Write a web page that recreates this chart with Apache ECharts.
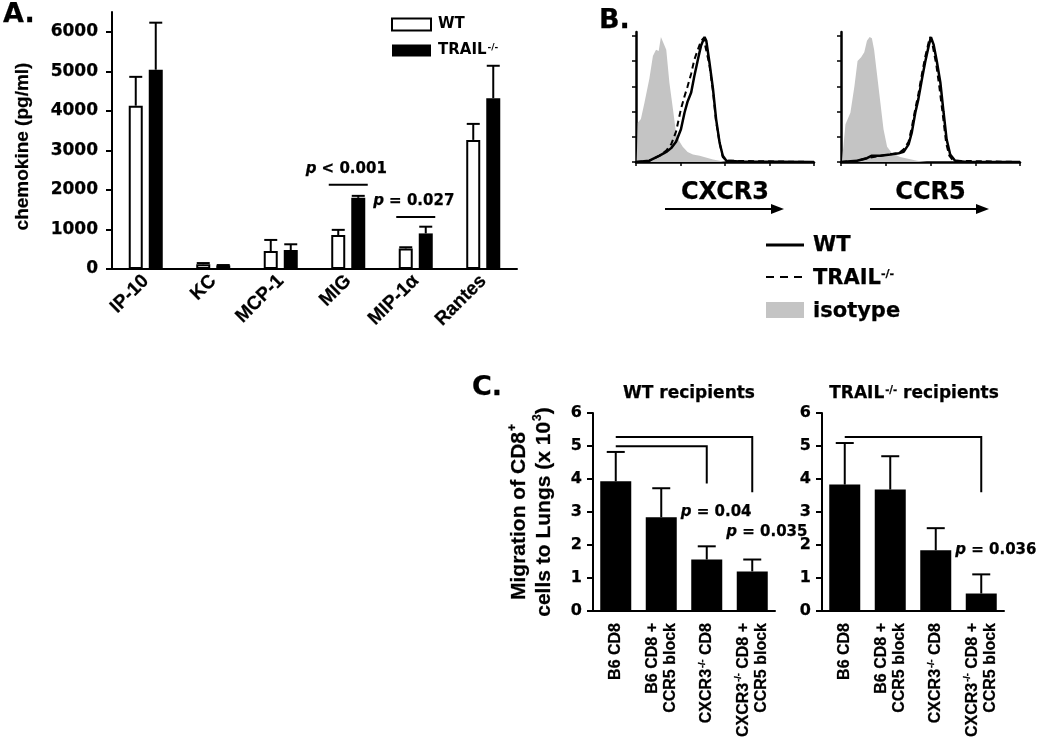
<!DOCTYPE html>
<html><head><meta charset="utf-8">
<script src="https://cdn.jsdelivr.net/npm/echarts@6/dist/echarts.min.js"></script>
<style>html,body{margin:0;padding:0;background:#fff}#c{width:1050px;height:745px}</style>
</head><body><div id="c"></div>
<script>
// ---------- Panel A data ----------
const chemokines = ['IP-10', 'KC', 'MCP-1', 'MIG', 'MIP-1α', 'Rantes'];
const wtMean = [4130, 120, 455, 860, 520, 3265];
const wtSem = [730, 30, 280, 130, 30, 405];
const trMean = [5040, 90, 480, 1800, 900, 4320];
const trSem = [1190, 10, 145, 50, 170, 820];
const aTicks = [0, 1000, 2000, 3000, 4000, 5000, 6000];
const aSigPos = [[3, 2130], [4, 1316]];
const aSigText = ['p < 0.001', 'p = 0.027'];

// ---------- Panel B data (x: log decades, y: % of max) ----------
const cxcr3Iso = [[0.015,0],[0.04,31],[0.11,34],[0.19,47],[0.30,66],[0.38,84],[0.45,89],[0.51,88],[0.56,99],[0.60,99],[0.68,89],[0.75,63],[0.83,42],[0.90,23],[0.98,16],[1.05,12],[1.16,8],[1.28,6],[1.43,5],[1.73,2],[2.03,0]];
const cxcr3WT = [[0,0],[0.30,1],[0.53,5],[0.68,8],[0.79,11],[0.90,16],[1.01,26],[1.09,39],[1.16,48],[1.24,55],[1.31,68],[1.39,81],[1.46,92],[1.54,99],[1.58,96],[1.65,79],[1.73,58],[1.80,34],[1.88,15],[1.95,5],[2.03,1],[2.33,0.3],[4,0]];
const cxcr3TR = [[0,0],[0.30,1],[0.53,5],[0.68,9],[0.79,14],[0.90,24],[1.01,42],[1.09,52],[1.16,60],[1.24,70],[1.31,81],[1.39,89],[1.46,96],[1.52,98],[1.56,97],[1.65,77],[1.73,56],[1.80,32],[1.88,15],[1.95,4],[2.03,1],[4,0]];
const ccr5Iso = [[0.02,0],[0.10,30],[0.21,39],[0.30,60],[0.37,80],[0.45,83],[0.52,87],[0.58,96],[0.64,99],[0.69,98],[0.74,89],[0.80,71],[0.88,47],[0.95,26],[1.03,12],[1.14,7],[1.32,4],[1.70,1],[1.92,0]];
const ccr5WT = [[0,0],[0.36,1],[0.58,3],[0.69,5],[0.88,5],[1.10,6],[1.29,7],[1.40,8],[1.51,14],[1.58,23],[1.66,39],[1.73,50],[1.81,66],[1.88,79],[1.96,92],[2.01,99],[2.07,93],[2.14,80],[2.22,63],[2.29,40],[2.36,18],[2.44,6],[2.55,1],[2.81,0],[4,0]];
const ccr5TR = [[0,0],[0.36,1],[0.58,3],[0.88,5],[1.29,7],[1.40,10],[1.51,16],[1.58,27],[1.66,42],[1.73,54],[1.81,70],[1.88,83],[1.96,95],[1.99,99],[2.05,92],[2.13,77],[2.20,59],[2.28,36],[2.35,15],[2.42,5],[2.51,1],[4,0]];
const histTicks = [0, 20, 40, 60, 80, 100];

// ---------- Panel C data ----------
const groups = ['B6 CD8', 'B6 CD8 +\nCCR5 block', 'CXCR3-/- CD8', 'CXCR3-/- CD8 +\nCCR5 block'];
const wtRecMean = [3.93, 2.84, 1.56, 1.20];
const wtRecSem = [0.89, 0.88, 0.40, 0.36];
const trRecMean = [3.83, 3.68, 1.84, 0.53];
const trRecSem = [1.26, 1.01, 0.67, 0.58];
const wtBrackets = [[0, 2, 4.99, 3.86], [0, 3, 5.27, 3.60]];
const trBrackets = [[0, 3, 5.27, 3.60]];
const wtSigPos = [[2, 3.0], [3, 2.4]];
const wtSigText = ['p = 0.04', 'p = 0.035'];
const trSigPos = [[3, 1.84]];
const trSigText = ['p = 0.036'];

// ---------- styles ----------
const H = 'DejaVu Sans';
const V = 'Liberation Sans';
const TB = {textBorderColor: '#000', textBorderWidth: 0.25};
const supStyle = (size, fam) => ({fontSize: size, fontWeight: 'bold', fontFamily: fam, color: '#000', verticalAlign: 'top', padding: [0, 0, 0, 1]});
const supFmt = s => s.replace(/-\/-/g, '{sup|-/-}');

function errRender(offset, cap) {
  return function (params, api) {
    const i = api.value(0), m = api.value(1), s = api.value(2);
    const p = api.coord([i, m]), q = api.coord([i, m + s]);
    const x = p[0] + offset;
    return {type: 'group', children: [
      {type: 'line', shape: {x1: x, y1: p[1], x2: x, y2: q[1]}, style: {stroke: '#000', lineWidth: 2}},
      {type: 'line', shape: {x1: x - cap, y1: q[1], x2: x + cap, y2: q[1]}, style: {stroke: '#000', lineWidth: 2}}
    ]};
  };
}
function bracketRender(params, api) {
  const a = api.coord([api.value(0), api.value(2)]);
  const b = api.coord([api.value(1), api.value(2)]);
  const c = api.coord([api.value(1), api.value(3)]);
  return {type: 'polyline', shape: {points: [a, b, c]}, style: {stroke: '#000', lineWidth: 2, fill: null}};
}
function sigLineRender(texts, halfW, dy, fontSize) {
  return function (params, api) {
    const p = api.coord([api.value(0), api.value(1)]);
    return {type: 'group', children: [
      {type: 'line', shape: {x1: p[0] - halfW, y1: p[1], x2: p[0] + halfW, y2: p[1]}, style: {stroke: '#000', lineWidth: 2}},
      {type: 'text', x: p[0] - 2, y: p[1] + dy, style: {
        text: texts[params.dataIndex].replace(/^p/, '{i|p}'), fill: '#000', font: 'bold ' + fontSize + 'px "' + H + '"',
        align: 'center', verticalAlign: 'middle', stroke: '#000', lineWidth: 0.25,
        rich: {i: {fontStyle: 'italic', fontWeight: 'bold', fontSize: fontSize, fontFamily: H, color: '#000'}}}}
    ]};
  };
}
function sigTextRender(texts, dx, fontSize) {
  return function (params, api) {
    const p = api.coord([api.value(0), api.value(1)]);
    return {type: 'text', x: p[0] + dx, y: p[1], style: {
      text: texts[params.dataIndex].replace(/^p/, '{i|p}'), fill: '#000', font: 'bold ' + fontSize + 'px "' + H + '"',
      align: 'left', verticalAlign: 'middle', stroke: '#000', lineWidth: 0.25,
      rich: {i: {fontStyle: 'italic', fontWeight: 'bold', fontSize: fontSize, fontFamily: H, color: '#000'}}}};
  };
}

const axLine = {show: true, lineStyle: {color: '#000', width: 2}};
const noSplit = {show: false};
const catLabelC = {interval: 0, rotate: 90, margin: 12, fontFamily: V, fontWeight: 'bold', fontSize: 16, lineHeight: 18, color: '#000',
  formatter: supFmt, rich: {sup: supStyle(9, V)}, ...TB};

const option = {
  backgroundColor: '#fff',
  animation: false,
  title: [
    {text: 'A.', left: -2, top: -4, textStyle: {fontFamily: H, fontWeight: 'bold', fontSize: 27, color: '#000', ...TB}},
    {text: 'B.', left: 594, top: 2, textStyle: {fontFamily: H, fontWeight: 'bold', fontSize: 27, color: '#000', ...TB}},
    {text: 'C.', left: 467, top: 369, textStyle: {fontFamily: H, fontWeight: 'bold', fontSize: 27, color: '#000', ...TB}},
    {text: 'WT recipients', left: 684, top: 380, textAlign: 'center', textStyle: {fontFamily: H, fontWeight: 'bold', fontSize: 17, color: '#000', ...TB}},
    {text: 'TRAIL{sup|-/-} recipients', left: 909, top: 380, textAlign: 'center', textStyle: {fontFamily: H, fontWeight: 'bold', fontSize: 17, color: '#000', ...TB, rich: {sup: supStyle(10, H)}}}
  ],
  legend: {
    left: 391, top: 17, padding: 0, orient: 'vertical', itemWidth: 39, itemHeight: 12, itemGap: 11, icon: 'rect',
    data: ['WT', 'TRAIL-/-'], selectedMode: false,
    formatter: supFmt,
    textStyle: {fontFamily: H, fontWeight: 'bold', fontSize: 15, color: '#000', padding: [0, 0, 0, 2], rich: {sup: supStyle(9, H)}}
  },
  grid: [
    {left: 112, top: 12, width: 405, height: 257},
    {left: 636, top: 32, width: 178, height: 130},
    {left: 841, top: 32, width: 179, height: 130},
    {left: 593, top: 413, width: 182, height: 198},
    {left: 822, top: 413, width: 182, height: 198}
  ],
  xAxis: [
    {gridIndex: 0, type: 'category', data: chemokines, axisLine: axLine,
      axisTick: {alignWithLabel: true, length: 7, lineStyle: {width: 2, color: '#000'}},
      axisLabel: {interval: 0, rotate: 45, margin: 9, fontFamily: V, fontWeight: 'bold', fontSize: 19, color: '#000', ...TB}},
    {gridIndex: 1, type: 'value', min: 0, max: 4, interval: 1, axisLine: {show: true, lineStyle: {color: '#000', width: 2.5}},
      axisTick: {show: true, length: 4, lineStyle: {width: 1.5, color: '#000'}}, axisLabel: {show: false}, splitLine: noSplit,
      name: 'CXCR3', nameLocation: 'middle', nameGap: 19, nameTextStyle: {fontFamily: H, fontWeight: 'bold', fontSize: 24, color: '#000', ...TB}},
    {gridIndex: 2, type: 'value', min: 0, max: 4, interval: 1, axisLine: {show: true, lineStyle: {color: '#000', width: 2.5}},
      axisTick: {show: true, length: 4, lineStyle: {width: 1.5, color: '#000'}}, axisLabel: {show: false}, splitLine: noSplit,
      name: 'CCR5', nameLocation: 'middle', nameGap: 19, nameTextStyle: {fontFamily: H, fontWeight: 'bold', fontSize: 24, color: '#000', ...TB}},
    {gridIndex: 3, type: 'category', data: groups, axisLine: axLine,
      axisTick: {alignWithLabel: true, length: 8, lineStyle: {width: 2, color: '#000'}}, axisLabel: catLabelC},
    {gridIndex: 4, type: 'category', data: groups, axisLine: axLine,
      axisTick: {alignWithLabel: true, length: 8, lineStyle: {width: 2, color: '#000'}}, axisLabel: catLabelC}
  ],
  yAxis: [
    {gridIndex: 0, type: 'value', min: 0, max: 6500, axisLine: axLine, splitLine: noSplit,
      axisTick: {show: true, length: 6, customValues: aTicks, lineStyle: {width: 2, color: '#000'}},
      axisLabel: {customValues: aTicks, formatter: v => String(v), margin: 14, fontFamily: H, fontWeight: 'bold', fontSize: 17, color: '#000', ...TB},
      name: 'chemokine (pg/ml)', nameLocation: 'middle', nameGap: 80, nameRotate: 90,
      nameTextStyle: {fontFamily: V, fontWeight: 'bold', fontSize: 19, color: '#000', padding: [0, 12, 0, 0], ...TB}},
    {gridIndex: 1, type: 'value', min: 0, max: 103, axisLine: {show: true, lineStyle: {color: '#000', width: 2.5}}, splitLine: noSplit,
      axisTick: {show: true, length: 4, customValues: histTicks, lineStyle: {width: 1.5, color: '#000'}}, axisLabel: {show: false}},
    {gridIndex: 2, type: 'value', min: 0, max: 103, axisLine: {show: true, lineStyle: {color: '#000', width: 2.5}}, splitLine: noSplit,
      axisTick: {show: true, length: 4, customValues: histTicks, lineStyle: {width: 1.5, color: '#000'}}, axisLabel: {show: false}},
    {gridIndex: 3, type: 'value', min: 0, max: 6, interval: 1, axisLine: axLine, splitLine: noSplit,
      axisTick: {show: true, length: 6, lineStyle: {width: 2, color: '#000'}},
      axisLabel: {margin: 11, fontFamily: H, fontWeight: 'bold', fontSize: 16, color: '#000', ...TB},
      name: 'Migration of CD8{sup|+}\ncells to Lungs (x 10{sup|3})', nameLocation: 'middle', nameGap: 36, nameRotate: 90,
      nameTextStyle: {fontFamily: V, fontWeight: 'bold', fontSize: 21, lineHeight: 25, color: '#000', ...TB, rich: {sup: supStyle(12, V)}}},
    {gridIndex: 4, type: 'value', min: 0, max: 6, interval: 1, axisLine: axLine, splitLine: noSplit,
      axisTick: {show: true, length: 6, lineStyle: {width: 2, color: '#000'}},
      axisLabel: {margin: 11, fontFamily: H, fontWeight: 'bold', fontSize: 16, color: '#000', ...TB}}
  ],
  series: [
    // Panel A
    {name: 'WT', type: 'bar', xAxisIndex: 0, yAxisIndex: 0, data: wtMean, barWidth: 14, barGap: '43%',
      itemStyle: {color: '#fff', borderColor: '#000', borderWidth: 2}},
    {name: 'TRAIL-/-', type: 'bar', xAxisIndex: 0, yAxisIndex: 0, data: trMean, barWidth: 14, barGap: '43%',
      itemStyle: {color: '#000', borderColor: '#000', borderWidth: 0}},
    {name: 'errWT', type: 'custom', xAxisIndex: 0, yAxisIndex: 0, z: 5, renderItem: errRender(-10, 6.5),
      data: chemokines.map((c, i) => [i, wtMean[i], wtSem[i]])},
    {name: 'errTR', type: 'custom', xAxisIndex: 0, yAxisIndex: 0, z: 5, renderItem: errRender(10, 6.5),
      data: chemokines.map((c, i) => [i, trMean[i], trSem[i]])},
    {name: 'sigA', type: 'custom', xAxisIndex: 0, yAxisIndex: 0, z: 5, renderItem: sigLineRender(aSigText, 19.5, -16, 15),
      data: aSigPos},
    // Panel B
    {name: 'iso1', type: 'line', xAxisIndex: 1, yAxisIndex: 1, data: cxcr3Iso, showSymbol: false, symbol: 'none',
      lineStyle: {width: 0}, areaStyle: {color: '#c4c4c4', opacity: 1}, z: 1},
    {name: 'tr1', type: 'line', xAxisIndex: 1, yAxisIndex: 1, data: cxcr3TR, showSymbol: false, symbol: 'none',
      lineStyle: {color: '#000', width: 2, type: [6, 4]}, z: 2},
    {name: 'wt1', type: 'line', xAxisIndex: 1, yAxisIndex: 1, data: cxcr3WT, showSymbol: false, symbol: 'none',
      lineStyle: {color: '#000', width: 2.5}, z: 3},
    {name: 'iso2', type: 'line', xAxisIndex: 2, yAxisIndex: 2, data: ccr5Iso, showSymbol: false, symbol: 'none',
      lineStyle: {width: 0}, areaStyle: {color: '#c4c4c4', opacity: 1}, z: 1},
    {name: 'tr2', type: 'line', xAxisIndex: 2, yAxisIndex: 2, data: ccr5TR, showSymbol: false, symbol: 'none',
      lineStyle: {color: '#000', width: 2, type: [6, 4]}, z: 2},
    {name: 'wt2', type: 'line', xAxisIndex: 2, yAxisIndex: 2, data: ccr5WT, showSymbol: false, symbol: 'none',
      lineStyle: {color: '#000', width: 2.5}, z: 3},
    // Panel C
    {name: 'wtRec', type: 'bar', xAxisIndex: 3, yAxisIndex: 3, data: wtRecMean, barWidth: 31, itemStyle: {color: '#000'}},
    {name: 'wtRecErr', type: 'custom', xAxisIndex: 3, yAxisIndex: 3, z: 5, renderItem: errRender(0, 9),
      data: groups.map((g, i) => [i, wtRecMean[i], wtRecSem[i]])},
    {name: 'wtBr', type: 'custom', xAxisIndex: 3, yAxisIndex: 3, z: 5, renderItem: bracketRender, data: wtBrackets},
    {name: 'wtSig', type: 'custom', xAxisIndex: 3, yAxisIndex: 3, z: 5, renderItem: sigTextRender(wtSigText, -26, 15), data: wtSigPos},
    {name: 'trRec', type: 'bar', xAxisIndex: 4, yAxisIndex: 4, data: trRecMean, barWidth: 31, itemStyle: {color: '#000'}},
    {name: 'trRecErr', type: 'custom', xAxisIndex: 4, yAxisIndex: 4, z: 5, renderItem: errRender(0, 9),
      data: groups.map((g, i) => [i, trRecMean[i], trRecSem[i]])},
    {name: 'trBr', type: 'custom', xAxisIndex: 4, yAxisIndex: 4, z: 5, renderItem: bracketRender, data: trBrackets},
    {name: 'trSig', type: 'custom', xAxisIndex: 4, yAxisIndex: 4, z: 5, renderItem: sigTextRender(trSigText, -26, 15), data: trSigPos}
  ],
  graphic: [
    // arrows under histogram axes
    {type: 'line', shape: {x1: 665, y1: 209, x2: 774, y2: 209}, style: {stroke: '#000', lineWidth: 2}},
    {type: 'polygon', shape: {points: [[771, 204], [784, 209], [771, 214]]}, style: {fill: '#000'}},
    {type: 'line', shape: {x1: 870, y1: 209, x2: 979, y2: 209}, style: {stroke: '#000', lineWidth: 2}},
    {type: 'polygon', shape: {points: [[976, 204], [989, 209], [976, 214]]}, style: {fill: '#000'}},
    // panel B legend
    {type: 'line', shape: {x1: 766, y1: 245, x2: 804, y2: 245}, style: {stroke: '#000', lineWidth: 3}},
    {type: 'text', x: 813, y: 246, style: {text: 'WT', font: 'bold 21px "DejaVu Sans"', fill: '#000', stroke: '#000', lineWidth: 0.25, verticalAlign: 'middle'}},
    {type: 'line', shape: {x1: 766, y1: 277, x2: 804, y2: 277}, style: {stroke: '#000', lineWidth: 2, lineDash: [8, 6]}},
    {type: 'text', x: 813, y: 279, style: {text: 'TRAIL{sup|-/-}', font: 'bold 21px "DejaVu Sans"', fill: '#000', stroke: '#000', lineWidth: 0.25, verticalAlign: 'middle',
      rich: {sup: {fontSize: 11, fontWeight: 'bold', fontFamily: H, fill: '#000', verticalAlign: 'top'}}}},
    {type: 'rect', shape: {x: 766, y: 302, width: 38, height: 16}, style: {fill: '#c4c4c4'}},
    {type: 'text', x: 813, y: 312, style: {text: 'isotype', font: 'bold 21px "DejaVu Sans"', fill: '#000', stroke: '#000', lineWidth: 0.25, verticalAlign: 'middle'}}
  ]
};

const chart = echarts.init(document.getElementById('c'), null, {renderer: 'canvas'});
chart.setOption(option);
</script>
</body></html>
